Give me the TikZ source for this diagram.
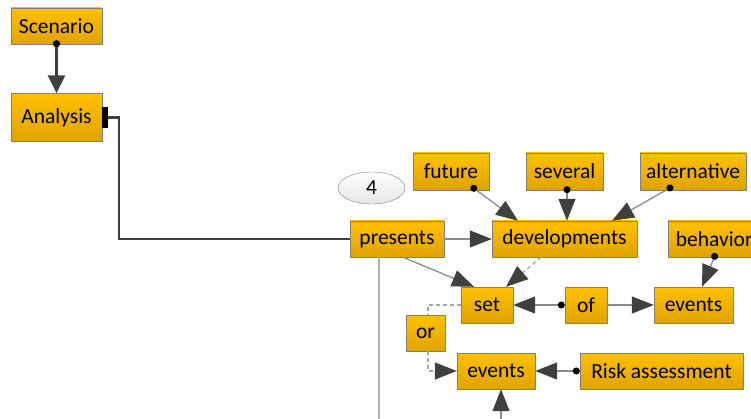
\documentclass[tikz,border=0pt]{standalone}
\usepackage{fontspec}
\setmainfont{Carlito}
\usetikzlibrary{positioning,arrows.meta,shapes.geometric}

\definecolor{boxtop}{HTML}{FFC000}
\definecolor{boxbot}{HTML}{DFA300}
\definecolor{boxline}{HTML}{7F7F7F}
\definecolor{linkdark}{HTML}{404040}
\definecolor{linkgray}{HTML}{8C8C8C}

\begin{document}
\begin{tikzpicture}[x=1pt,y=-1pt,
    concept/.style={draw=boxline, top color=boxtop, bottom color=boxbot,
        minimum height=36pt, inner sep=0pt, font=\fontsize{21.5}{26}\selectfont},
    oval/.style={ellipse, draw=boxline, top color=white, bottom color=black!10,
        inner sep=0pt, font=\fontsize{21.5}{26}\selectfont},
    link/.style={draw=linkgray, line width=1.3pt,
        -{Triangle[length=22pt,width=17pt,color=linkdark]}},
    dotlink/.style={link, {Circle[length=7pt,color=black]}-{Triangle[length=22pt,width=17pt,color=linkdark]}},
    dashlink/.style={link, draw=black!35, dash pattern=on 4pt off 3pt},
    heavylink/.style={draw=linkdark, line width=2.8pt},
]
\useasboundingbox (0,0) rectangle (751,419);
\clip (0,0) rectangle (751,419);

% left column
\node[concept, minimum width=91pt] (scen) at (56.5,26) {Scenario};
\node[concept, minimum width=91pt, minimum height=48pt] (anal) at (56.5,117.5) {Analysis};
\node[fill=black, minimum width=6pt, minimum height=21pt, inner sep=0pt] (port) at (105,117.5) {};

% main row and its qualifiers
\node[oval, minimum width=67pt, minimum height=32pt] (num) at (371.5,188) {4};
\node[concept, minimum width=94pt] (pres) at (397,239) {presents};
\node[concept, minimum width=145pt] (dev) at (564.5,239) {developments};
\node[concept, minimum width=92pt, anchor=west] (beh) at (668,239) {behavior};
\node[concept, minimum width=76pt, minimum height=37pt] (fut) at (451,171.5) {future};
\node[concept, minimum width=77pt, minimum height=37pt] (sev) at (564.5,171.5) {several};
\node[concept, minimum width=106pt, minimum height=37pt] (alt) at (693,171.5) {alternative};

% lower rows
\node[concept, minimum width=52pt] (set) at (487,305) {set};
\node[concept, minimum width=42pt] (of) at (586,305) {of};
\node[concept, minimum width=79pt] (evtop) at (693.5,305) {events};
\node[concept, minimum width=39pt] (or) at (425.5,333) {or};
\node[concept, minimum width=78pt] (evlow) at (496,371) {events};
\node[concept, minimum width=163pt] (risk) at (661.5,371) {Risk assessment};

\coordinate (bend) at (119,117.5);
\coordinate (vline) at (379,419);
\coordinate (uparrow) at (501,419);

\draw[heavylink, {Circle[length=7pt,color=black]}-{Triangle[length=18pt,width=17pt]}]
    ([yshift=4pt]scen.south) -- (anal.north);
\draw[heavylink] (port.east) -- (bend) |- (pres.west);

\draw[dotlink] ([xshift=20pt,yshift=4pt]fut.south) -- ([xshift=-46.5pt]dev.north);
\draw[dotlink] ([xshift=2.5pt,yshift=4pt]sev.south) -- ([xshift=2.5pt]dev.north);
\draw[dotlink] ([xshift=-20pt,yshift=4pt]alt.south) -- ([xshift=47.5pt]dev.north);
\draw[link] (pres.east) -- (dev.west);
\draw[link] ([xshift=6pt]pres.south) -- ([xshift=-13pt]set.north);
\draw[dashlink] ([xshift=-23.5pt]dev.south) -- ([xshift=19pt]set.north);
\draw[dotlink] ([xshift=48pt,yshift=4pt]beh.south west) -- ([xshift=8.5pt]evtop.north);
\draw[dotlink] (of.west) -- (set.east);
\draw[link] (of.east) -- (evtop.west);
\draw[dashlink, -] (set.west) -| ([xshift=2.5pt]or.north);
\draw[dashlink] ([xshift=2.5pt]or.south) |- (evlow.west);
\draw[dotlink] (risk.west) -- (evlow.east);
\draw[draw=black!30, line width=1.3pt] (pres.south -| vline) -- (vline);
\draw[link] (uparrow) -- (evlow.south -| uparrow);
\end{tikzpicture}
\end{document}
